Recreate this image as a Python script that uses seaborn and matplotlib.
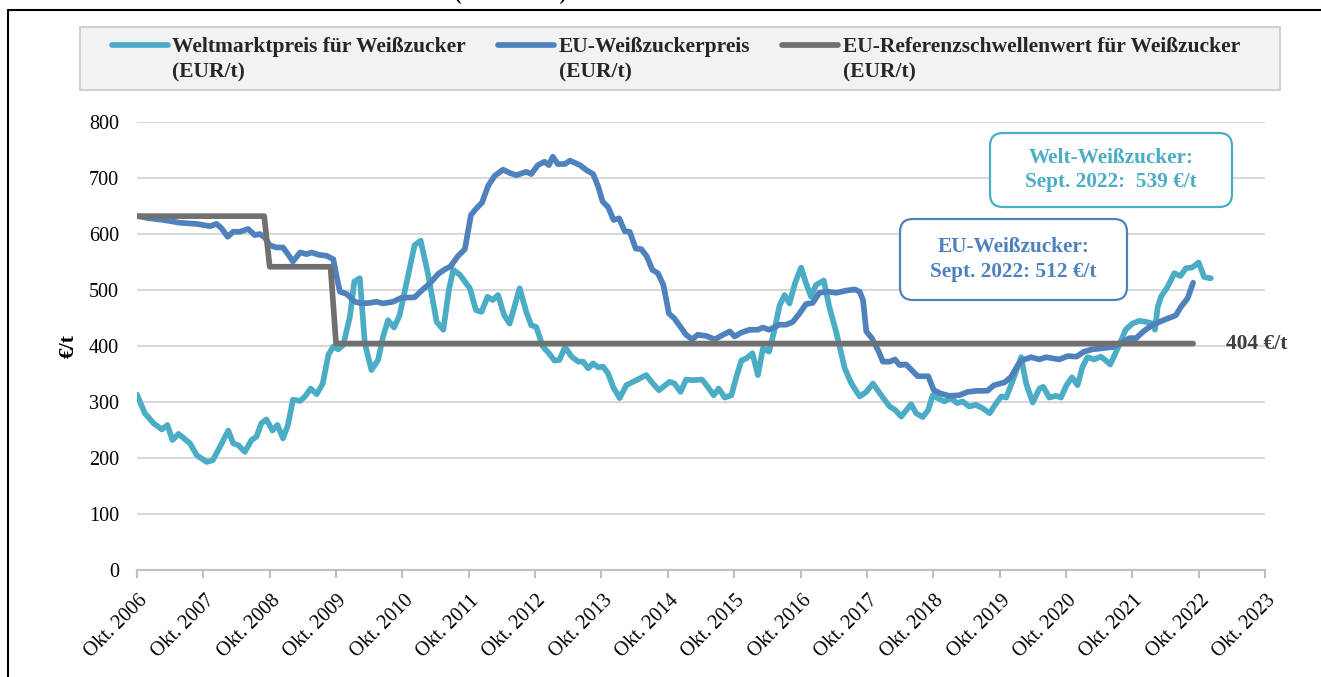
import matplotlib
matplotlib.use("Agg")
import matplotlib.pyplot as plt
import matplotlib.patches as mpatches
import matplotlib.transforms as mtransforms
from matplotlib.lines import Line2D
import pandas as pd
import seaborn as sns

# x values: months since Okt. 2006
world_months = [0.0, 1.4, 3.0, 4.5, 5.5, 6.4, 7.5, 9.6, 10.8, 12.6, 13.7, 15.0, 16.5, 17.4, 18.3, 19.5,
                20.7, 21.6, 22.5, 23.4, 24.5, 25.4, 26.4, 27.3, 28.2, 29.5, 30.4, 31.4, 32.5, 33.6, 34.6,
                35.5, 36.4, 37.3, 38.5, 39.3, 40.3, 41.2, 42.4, 43.6, 44.5, 45.4, 46.5, 47.5, 49.0, 50.2,
                51.3, 52.6, 54.2, 55.4, 56.4, 57.2, 58.4, 60.2, 61.3, 62.3, 63.4, 64.3, 65.3, 66.4, 67.4,
                69.2, 70.4, 71.3, 72.2, 73.4, 74.5, 75.5, 76.4, 77.4, 78.6, 79.8, 80.7, 81.6, 82.5, 83.4,
                84.3, 85.2, 86.1, 87.3, 88.5, 90.3, 92.1, 93.3, 94.4, 96.3, 97.2, 98.3, 99.3, 100.5, 102.2,
                103.3, 104.3, 105.2, 106.3, 107.5, 108.4, 109.3, 110.2, 111.3, 112.3, 113.2, 114.3, 115.3,
                116.2, 117.1, 118.0, 119.0, 120.1, 121.0, 121.9, 122.8, 124.2, 125.2, 126.5, 128.0, 129.2,
                130.7, 131.9, 133.1, 134.6, 136.1, 137.1, 138.2, 140.0, 140.9, 142.1, 143.1, 143.9, 144.8,
                146.0, 147.2, 148.3, 149.3, 150.5, 151.7, 152.9, 154.2, 155.4, 156.3, 157.2, 158.4, 159.9,
                160.8, 162.0, 163.2, 163.9, 165.0, 166.2, 167.1, 168.1, 169.1, 170.1, 171.0, 171.9, 173.1,
                174.3, 175.1, 176.0, 176.9, 177.9, 178.8, 180.0, 181.3, 182.5, 183.7, 184.1, 184.6, 185.2,
                186.4, 187.6, 188.7, 189.7, 190.8, 192.0, 193.0, 194.2]
world_prices = [313, 280, 262, 251, 259, 232, 243, 226, 205, 193, 196, 220, 249, 226, 223, 211,
                232, 238, 262, 269, 249, 259, 235, 259, 304, 302, 310, 324, 314, 333, 384,
                399, 394, 402, 452, 515, 521, 405, 357, 375, 417, 446, 433, 455, 524, 580,
                588, 530, 443, 429, 500, 536, 527, 503, 464, 461, 488, 482, 491, 455, 440,
                503, 461, 437, 434, 399, 387, 374, 375, 398, 381, 372, 372, 360, 369, 362,
                363, 351, 327, 307, 330, 339, 348, 333, 321, 336, 333, 318, 340, 339, 340,
                326, 312, 324, 308, 312, 345, 374, 378, 387, 348, 396, 390, 429,
                472, 491, 476, 512, 540, 512, 488, 509, 517, 470, 423, 360, 333,
                310, 318, 333, 312, 292, 286, 274, 296, 280, 273, 286, 312, 307,
                301, 307, 298, 301, 292, 295, 289, 280, 298, 310, 308, 339, 380,
                333, 299, 324, 327, 308, 311, 308, 330, 344, 330, 363, 380, 376,
                381, 375, 367, 386, 408, 429, 440, 445, 443, 440, 429, 470, 488,
                506, 530, 525, 539, 540, 549, 523, 521]

eu_months = [0.0, 2.3, 4.8, 7.8, 10.8, 13.2, 14.4, 15.3, 16.4, 17.4, 18.6, 20.1, 21.3, 22.2, 23.1, 24.0,
             25.2, 26.4, 27.3, 28.2, 29.5, 30.7, 31.6, 32.8, 34.3, 35.5, 36.1, 36.7, 37.9, 39.4, 40.6,
             42.1, 43.3, 44.5, 46.3, 47.8, 50.2, 51.7, 53.0, 54.5, 55.7, 56.7, 58.0, 59.3, 60.4, 61.4,
             62.4, 63.5, 64.7, 66.2, 67.4, 68.6, 70.4, 71.3, 72.5, 73.7, 74.5, 75.2, 76.1, 77.4, 78.3,
             80.1, 81.3, 82.5, 83.4, 84.2, 85.2, 86.2, 87.2, 88.2, 89.1, 90.2, 91.2, 92.2, 93.2, 94.2,
             95.2, 96.2, 97.2, 98.3, 99.3, 100.4, 101.4, 102.9, 104.5, 106.0, 107.2, 108.1, 109.3, 110.8,
             112.3, 113.2, 114.3, 116.2, 117.4, 118.6, 119.8, 121.0, 122.2, 123.4, 124.9, 126.5, 128.3,
             129.8, 130.7, 131.3, 131.9, 132.9, 134.0, 134.9, 136.1, 137.1, 137.9, 139.1, 140.1, 141.2,
             143.1, 144.1, 145.4, 146.9, 148.7, 150.2, 152.0, 153.8, 155.0, 156.9, 158.1, 159.3, 160.2,
             161.7, 163.2, 164.4, 166.8, 168.3, 169.9, 171.3, 172.8, 174.6, 176.4, 177.9, 179.5, 180.7,
             182.0, 183.4, 184.9, 186.1, 187.2, 187.9, 188.8, 190.0, 191.0]
eu_prices = [632, 628, 625, 620, 618, 614, 618, 610, 595, 604, 604, 609, 598, 600, 594, 580,
             576, 576, 564, 551, 567, 564, 567, 563, 561, 555, 524, 497, 493, 479, 476,
             477, 479, 476, 479, 486, 487, 501, 512, 529, 537, 542, 560, 573, 634, 646,
             656, 686, 704, 715, 709, 705, 711, 707, 723, 729, 723, 738, 725, 725, 731,
             723, 714, 707, 685, 658, 648, 625, 628, 605, 604, 574, 573, 560, 536, 530,
             509, 458, 449, 434, 420, 412, 420, 418, 412, 420, 426, 417, 424, 429,
             429, 433, 429, 438, 438, 443, 458, 475, 477, 495, 497, 495, 499,
             501, 497, 482, 426, 414, 393, 372, 372, 376, 366, 367, 357, 346,
             346, 321, 315, 311, 312, 318, 320, 320, 330, 335, 345, 366, 375,
             380, 376, 380, 376, 382, 381, 390, 394, 396, 398, 405, 414, 414,
             426, 436, 443, 448, 452, 455, 470, 485, 513]

ref_months = [0, 23, 24, 35, 36, 191]
ref_prices = [631.9, 631.9, 541.5, 541.5, 404.4, 404.4]

tick_years = list(range(2006, 2024))
tick_labels = [f"Okt. {y}" for y in tick_years]

series_names = ["Weltmarktpreis für Weißzucker\n(EUR/t)",
                "EU-Weißzuckerpreis\n(EUR/t)",
                "EU-Referenzschwellenwert für Weißzucker\n(EUR/t)"]
colors = ["#4bacc6", "#4f81bd", "#707070"]

df = pd.concat([
    pd.DataFrame({"month": world_months, "price": world_prices, "series": series_names[0]}),
    pd.DataFrame({"month": eu_months, "price": eu_prices, "series": series_names[1]}),
    pd.DataFrame({"month": ref_months, "price": ref_prices, "series": series_names[2]}),
])

sns.set_theme(style="white")
plt.rcParams["font.family"] = ["Liberation Serif", "DejaVu Serif"]

W, H = 1321, 677
fig = plt.figure(figsize=(W / 100, H / 100), dpi=100)
ax = fig.add_axes([137 / W, 1 - 570 / H, 1128 / W, 448 / H])

sns.lineplot(data=df, x="month", y="price", hue="series", hue_order=series_names,
             palette=dict(zip(series_names, colors)), linewidth=4.1, estimator=None,
             sort=False, legend=False, ax=ax,
             solid_capstyle="round", solid_joinstyle="round")

ax.set_xlim(0, 204)
ax.set_ylim(0, 800)
ax.set_yticks(range(0, 801, 100))
ax.set_xticks([12 * i for i in range(len(tick_years))])
ax.set_xticklabels(tick_labels, rotation=45, ha="right", va="center", rotation_mode="anchor")
ax.set_xlabel("")
ax.set_ylabel("€/t", fontsize=15.5, fontweight="bold", color="black")
ax.yaxis.set_label_coords(-0.052, 0.5)

ax.yaxis.grid(True, color="#d9d9d9", linewidth=1.5)
ax.xaxis.grid(False)
ax.set_axisbelow(True)
for s in ["left", "top", "right"]:
    ax.spines[s].set_visible(False)
ax.spines["bottom"].set_color("#bfbfbf")
ax.spines["bottom"].set_linewidth(1.5)
ax.tick_params(axis="x", direction="out", length=6, width=1.5, color="#bfbfbf",
               labelsize=14.5, labelcolor="black", pad=4, bottom=True)
ax.tick_params(axis="y", length=0, labelsize=14.5, labelcolor="black", pad=13)

shift = mtransforms.ScaledTranslation(8 / 100, -14 / 100, fig.dpi_scale_trans)
for lbl in ax.get_xticklabels():
    lbl.set_transform(lbl.get_transform() + shift)

# threshold value label
ax.text(ref_months[-1] + 6, ref_prices[-1], "404 €/t", fontsize=15.5, fontweight="bold",
        color="#404040", va="center", ha="left")

# callout boxes
def callout(x0, y0, x1, y1, text, color):
    box = mpatches.FancyBboxPatch((x0, H - y1), x1 - x0, y1 - y0,
                                  boxstyle="round,pad=0,rounding_size=13",
                                  transform=None, fc="white", ec=color, lw=1.6, zorder=5)
    fig.add_artist(box)
    fig.text((x0 + x1) / 2 / W, 1 - (y0 + y1) / 2 / H, text, ha="center", va="center",
             color=color, fontsize=15.3, fontweight="bold", linespacing=1.3, zorder=6)

callout(990, 133, 1232, 207, "Welt-Weißzucker:\nSept. 2022:  539 €/t", colors[0])
callout(900, 219, 1127, 300, "EU-Weißzucker:\nSept. 2022: 512 €/t", colors[1])

# legend on a grey band
fig.add_artist(mpatches.Rectangle((80 / W, 1 - 90 / H), 1200 / W, 63 / H, transform=fig.transFigure,
                                  fc="#f2f2f2", ec="#d0d0d0", lw=1.5, zorder=0))
handles = [Line2D([], [], color=c, lw=4.1, solid_capstyle="round") for c in colors]
leg = fig.legend(handles, series_names, ncol=3, loc="upper left",
                 bbox_to_anchor=(112 / W, 1 - 37 / H), frameon=False,
                 prop={"family": ["Liberation Serif"], "weight": "bold", "size": 15.5},
                 handlelength=2.6, handletextpad=0.2, columnspacing=1.5,
                 borderpad=0, borderaxespad=0)
for t in leg.get_texts():
    t.set_linespacing(1.38)
for col in leg._legend_handle_box.get_children():
    for row in col.get_children():
        row.align = "top"

# heading cut off by the top edge, only the bottoms of the brackets show
fig.text(511 / W, 1.0, "(2006 – 2022)", ha="center", va="baseline",
         fontsize=14, fontweight="bold", color="black")

# outer frame
fig.add_artist(Line2D([8 / W, 1], [1 - 10 / H, 1 - 10 / H], transform=fig.transFigure,
                      color="black", lw=1.5))
fig.add_artist(Line2D([8 / W, 8 / W], [0, 1 - 10 / H], transform=fig.transFigure,
                      color="black", lw=1.5))

fig.savefig("out.png", dpi=100)
